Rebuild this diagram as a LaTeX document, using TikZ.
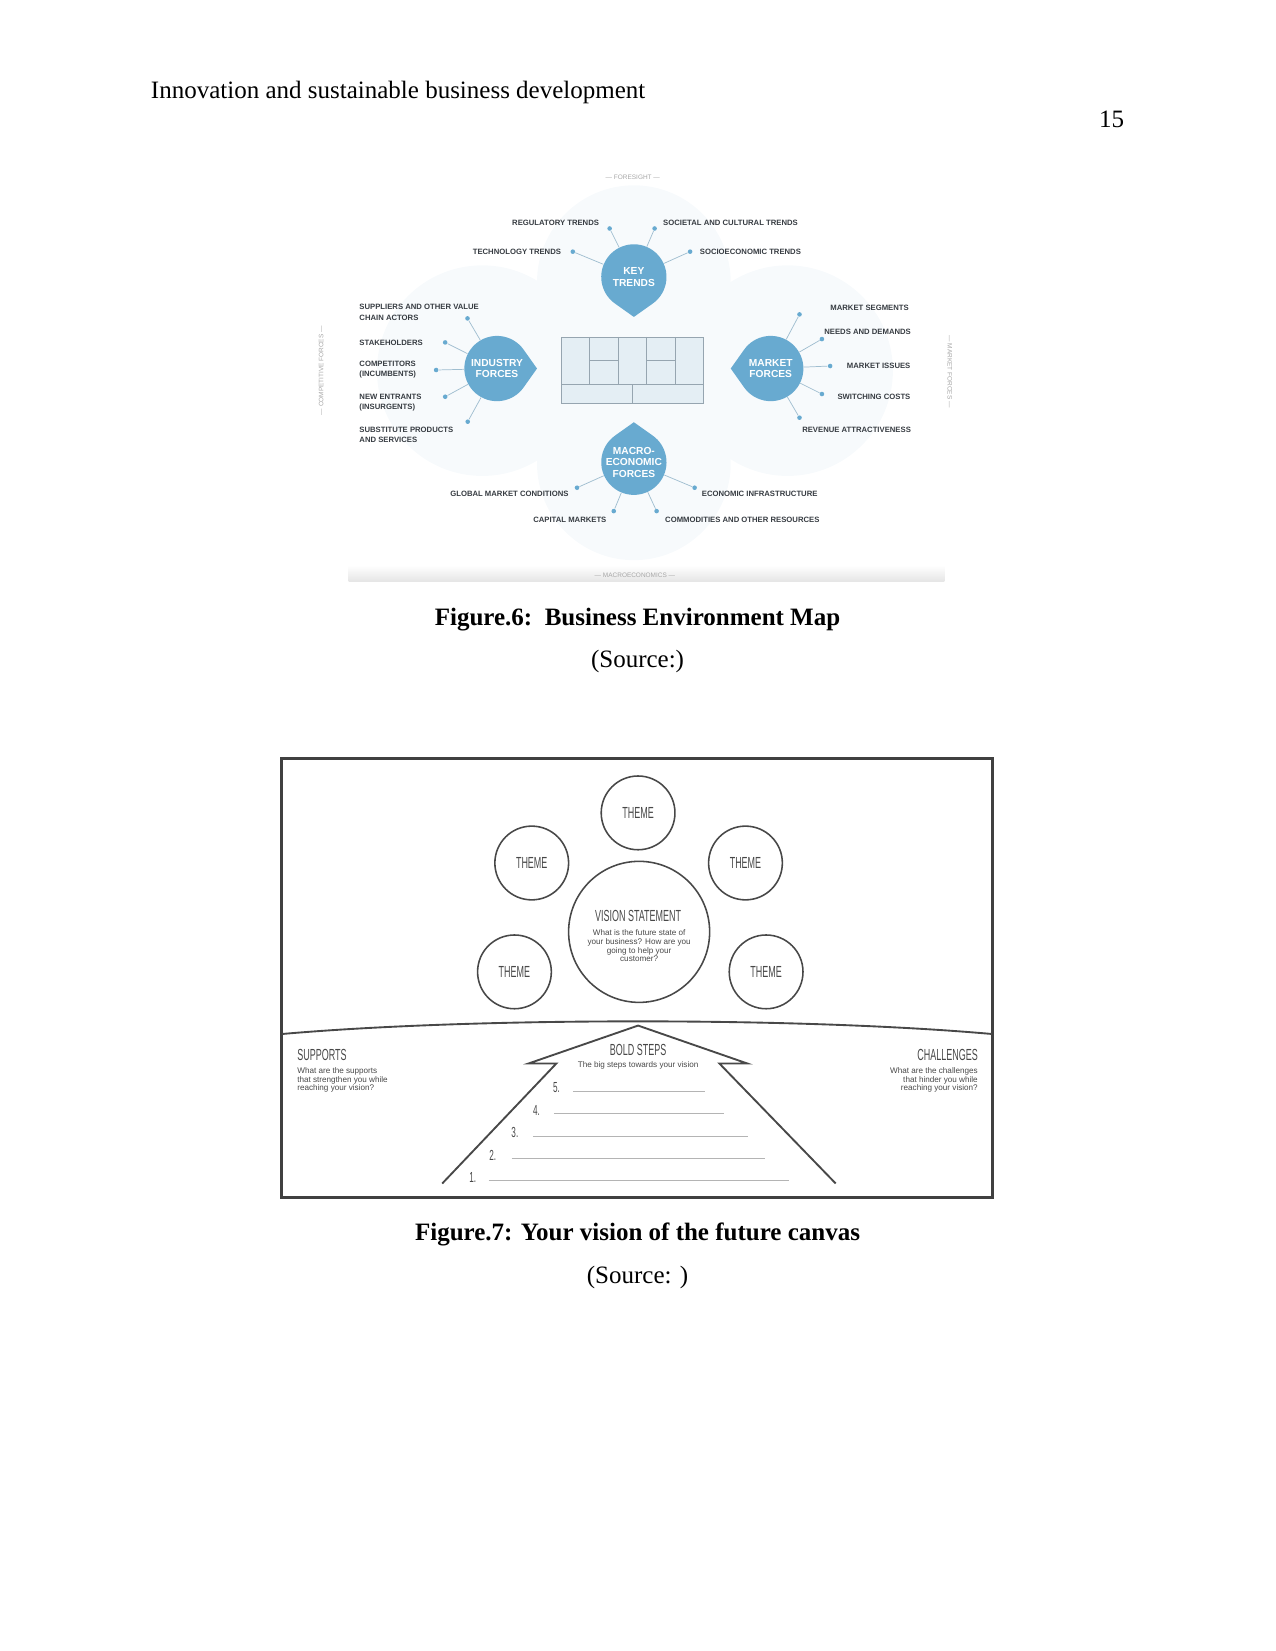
\documentclass[tikz,border=0pt]{standalone}
\usepackage{fontspec}
\setmainfont{Liberation Serif}
\newfontfamily\mapfont{Liberation Sans}
\newfontfamily\handfont[FakeStretch=0.56]{Liberation Sans}
\usetikzlibrary{positioning}
\definecolor{dropblue}{RGB}{104,170,208}
\definecolor{glow}{RGB}{247,250,252}
\definecolor{maptext}{RGB}{55,60,66}
\definecolor{pin}{RGB}{160,190,208}
\definecolor{canvasfill}{RGB}{228,238,244}
\definecolor{canvasline}{RGB}{150,165,176}
\definecolor{ink}{RGB}{72,72,72}
\definecolor{rule}{RGB}{180,180,180}
% teardrop: centre x, centre y, direction of the tip
\newcommand{\mapdrop}[3]{%
  \begin{scope}[shift={(#1,#2)},rotate=#3]
    \fill[dropblue] (38,0) -- (35:31) arc[start angle=35,end angle=325,radius=31] -- cycle;
  \end{scope}}

\begin{document}
\begin{tikzpicture}[x=0.5054pt,y=-0.5054pt,
  pagetext/.style={anchor=base,inner sep=0,font=\fontsize{12}{14}\selectfont},
  caption/.style={pagetext,font=\fontsize{12}{14}\selectfont\bfseries},
  maplab/.style={inner sep=0,text=maptext,font=\mapfont\bfseries\fontsize{3.7}{5}\selectfont},
  edgelab/.style={inner sep=0,text=black!35,font=\mapfont\fontsize{3.1}{4}\selectfont},
  pindot/.style={circle,fill=dropblue,inner sep=0,minimum size=2.2pt},
  pinline/.style={draw=pin,line width=0.35pt},
  droptxt/.style={circle,minimum size=31.3pt,inner sep=0,text=white,align=center,
    font=\mapfont\bfseries\fontsize{4.9}{5.6}\selectfont},
  theme/.style={circle,draw=ink,line width=0.75pt,minimum size=35.4pt,inner sep=0,
    text=ink,font=\handfont\fontsize{7.7}{9}\selectfont},
  vision/.style={theme,minimum size=67.7pt},
  handtitle/.style={inner sep=0,text=ink,font=\handfont\fontsize{7.7}{9}\selectfont},
  handnote/.style={inner sep=0,text=ink,font=\mapfont\fontsize{3.9}{4.2}\selectfont},
  stepline/.style={draw=rule,line width=0.4pt}]
  \useasboundingbox (0,0) rectangle (1211,1568);

  % page head
  \node[pagetext,anchor=base west] (head) at (143,94) {Innovation and sustainable business development};
  \node[pagetext,anchor=base east] (pnum) at (1068,121) {15};

  % --- Figure 6: environment map ---
  \fill[glow] (602,268) circle (92);
  \fill[glow] (458,352) circle (100);
  \fill[glow] (748,352) circle (100);
  \fill[glow] (602,440) circle (92);
  \shade[top color=white,bottom color=black!10] (331,537) rectangle (897,552);
  \node[edgelab] (fore) at (601,168) {— FORESIGHT —};
  \node[edgelab] (macro) at (603,546) {— MACROECONOMICS —};
  \node[edgelab,rotate=90] (compf) at (305,352) {— COMPETITIVE FORCES —};
  \node[edgelab,rotate=-90] (markf) at (902,353) {— MARKET FORCES —};

  % mini canvas in the middle
  \draw[canvasline,fill=canvasfill,line width=0.4pt] (533,320) rectangle (668,383);
  \foreach \x in {560,587,614,641}
    \draw[canvasline,line width=0.4pt] (\x,320) -- (\x,365);
  \draw[canvasline,line width=0.4pt] (533,365) -- (668,365);
  \draw[canvasline,line width=0.4pt] (600.5,365) -- (600.5,383);
  \draw[canvasline,line width=0.4pt] (560,342) -- (587,342);
  \draw[canvasline,line width=0.4pt] (614,342) -- (641,342);

  \mapdrop{602}{263}{-90}
  \mapdrop{472}{350}{0}
  \mapdrop{732}{350}{180}
  \mapdrop{602}{439}{90}
  \node[droptxt] (kt) at (602,263) {KEY\\TRENDS};
  \node[droptxt] (ind) at (472,350) {INDUSTRY\\FORCES};
  \node[droptxt] (mkt) at (732,350) {MARKET\\FORCES};
  \node[droptxt] (mac) at (602,439) {MACRO-\\ECONOMIC\\FORCES};

  \foreach \nm/\x/\y/\to in {reg/579/217/kt, soc/621.7/217/kt, tech/544/239/kt, socio/655.4/239/kt,
      sup/444/302.4/ind, stake/422.8/325.2/ind, comp/414.2/351.4/ind, newent/422.8/376.8/ind, subst/444.2/400.5/ind,
      seg/759.3/298.6/mkt, needs/780.6/322/mkt, issues/788.4/347.6/mkt, switch/780.6/374.2/mkt, rev/759.3/396.7/mkt,
      glob/548/463.2/mac, infra/659.7/463.2/mac, capm/582.9/485.4/mac, comm/623.6/485.4/mac}{
    \node[pindot] (\nm) at (\x,\y) {};
    \draw[pinline] (\nm) -- (\to);
  }

  \node[maplab,anchor=east] at (569.3,211.2) {REGULATORY TRENDS};
  \node[maplab,anchor=west] at (629.5,211.2) {SOCIETAL AND CULTURAL TRENDS};
  \node[maplab,anchor=east] at (533.2,239) {TECHNOLOGY TRENDS};
  \node[maplab,anchor=west] at (664.3,239) {SOCIOECONOMIC TRENDS};
  \node[maplab,anchor=west,align=left] at (341,296.6) {SUPPLIERS AND OTHER VALUE\\CHAIN ACTORS};
  \node[maplab,anchor=west] at (341,325.2) {STAKEHOLDERS};
  \node[maplab,anchor=west,align=left] at (341,351) {COMPETITORS\\(INCUMBENTS)};
  \node[maplab,anchor=west,align=left] at (341,382.3) {NEW ENTRANTS\\(INSURGENTS)};
  \node[maplab,anchor=west,align=left] at (341,412.8) {SUBSTITUTE PRODUCTS\\AND SERVICES};
  \node[maplab,anchor=east] at (863.5,292) {MARKET SEGMENTS};
  \node[maplab,anchor=east] at (865.5,315) {NEEDS AND DEMANDS};
  \node[maplab,anchor=east] at (865,347.6) {MARKET ISSUES};
  \node[maplab,anchor=east] at (865,376.8) {SWITCHING COSTS};
  \node[maplab,anchor=east] at (865.5,407.8) {REVENUE ATTRACTIVENESS};
  \node[maplab,anchor=east] at (540.3,469.2) {GLOBAL MARKET CONDITIONS};
  \node[maplab,anchor=west] at (666.2,469.2) {ECONOMIC INFRASTRUCTURE};
  \node[maplab,anchor=east] at (576.3,493.3) {CAPITAL MARKETS};
  \node[maplab,anchor=west] at (631.4,493.3) {COMMODITIES AND OTHER RESOURCES};

  \node[caption] (cap6) at (605.5,594) {Figure.6:\ \ Business Environment Map};
  \node[pagetext] (src6) at (605.5,634) {(Source:)};

  % --- Figure 7: vision canvas ---
  \draw[line width=1.4pt,black!75] (267,720) rectangle (943,1137);
  \node[theme] (th1) at (606,772) {THEME};
  \node[theme] (th2) at (505,819.6) {THEME};
  \node[theme] (th3) at (708,819.6) {THEME};
  \node[theme] (th4) at (488.6,923) {THEME};
  \node[theme] (th5) at (727.6,923) {THEME};
  \node[vision] (vs) at (607,885) {};
  \node[handtitle,anchor=base] at (606,875) {VISION STATEMENT};
  \node[handnote,anchor=north,align=center] at (607,882.5) {What is the future state of\\your business? How are you\\going to help your\\customer?};

  \draw[ink,line width=0.9pt] (268,982) .. controls (450,966) and (762,966) .. (942,982);
  \draw[ink,line width=0.9pt,line join=miter] (420,1124) -- (528.4,1010) -- (502,1010) -- (606,974)
    -- (709.7,1010) -- (683.2,1010) -- (793.7,1124);
  \node[handtitle,anchor=base] at (606,1002) {BOLD STEPS};
  \node[handnote,anchor=base] at (606,1013.5) {The big steps towards your vision};
  \foreach \n/\nx/\y/\xa/\xb in {1/449/1118/464/749, 2/468/1097/486/727, 3/489/1075.5/506/710,
      4/509.5/1054.4/526/688, 5/528.5/1033/544/670}{
    \node[handtitle,font=\handfont\fontsize{7}{8}\selectfont] at (\nx,\y) {\n.};
    \draw[stepline] (\xa,\y+3.5) -- (\xb,\y+3.5);
  }

  \node[handtitle,anchor=base west] at (282,1007.5) {SUPPORTS};
  \node[handnote,anchor=north west,align=left] at (282,1013.4) {What are the supports\\that strengthen you while\\reaching your vision?};
  \node[handtitle,anchor=base east] at (929,1007.5) {CHALLENGES};
  \node[handnote,anchor=north east,align=right] at (929,1013.4) {What are the challenges\\that hinder you while\\reaching your vision?};

  \node[caption] (cap7) at (605.5,1178) {Figure.7: Your vision of the future canvas};
  \node[pagetext] (src7) at (605.5,1219) {(Source: )};
\end{tikzpicture}
\end{document}
